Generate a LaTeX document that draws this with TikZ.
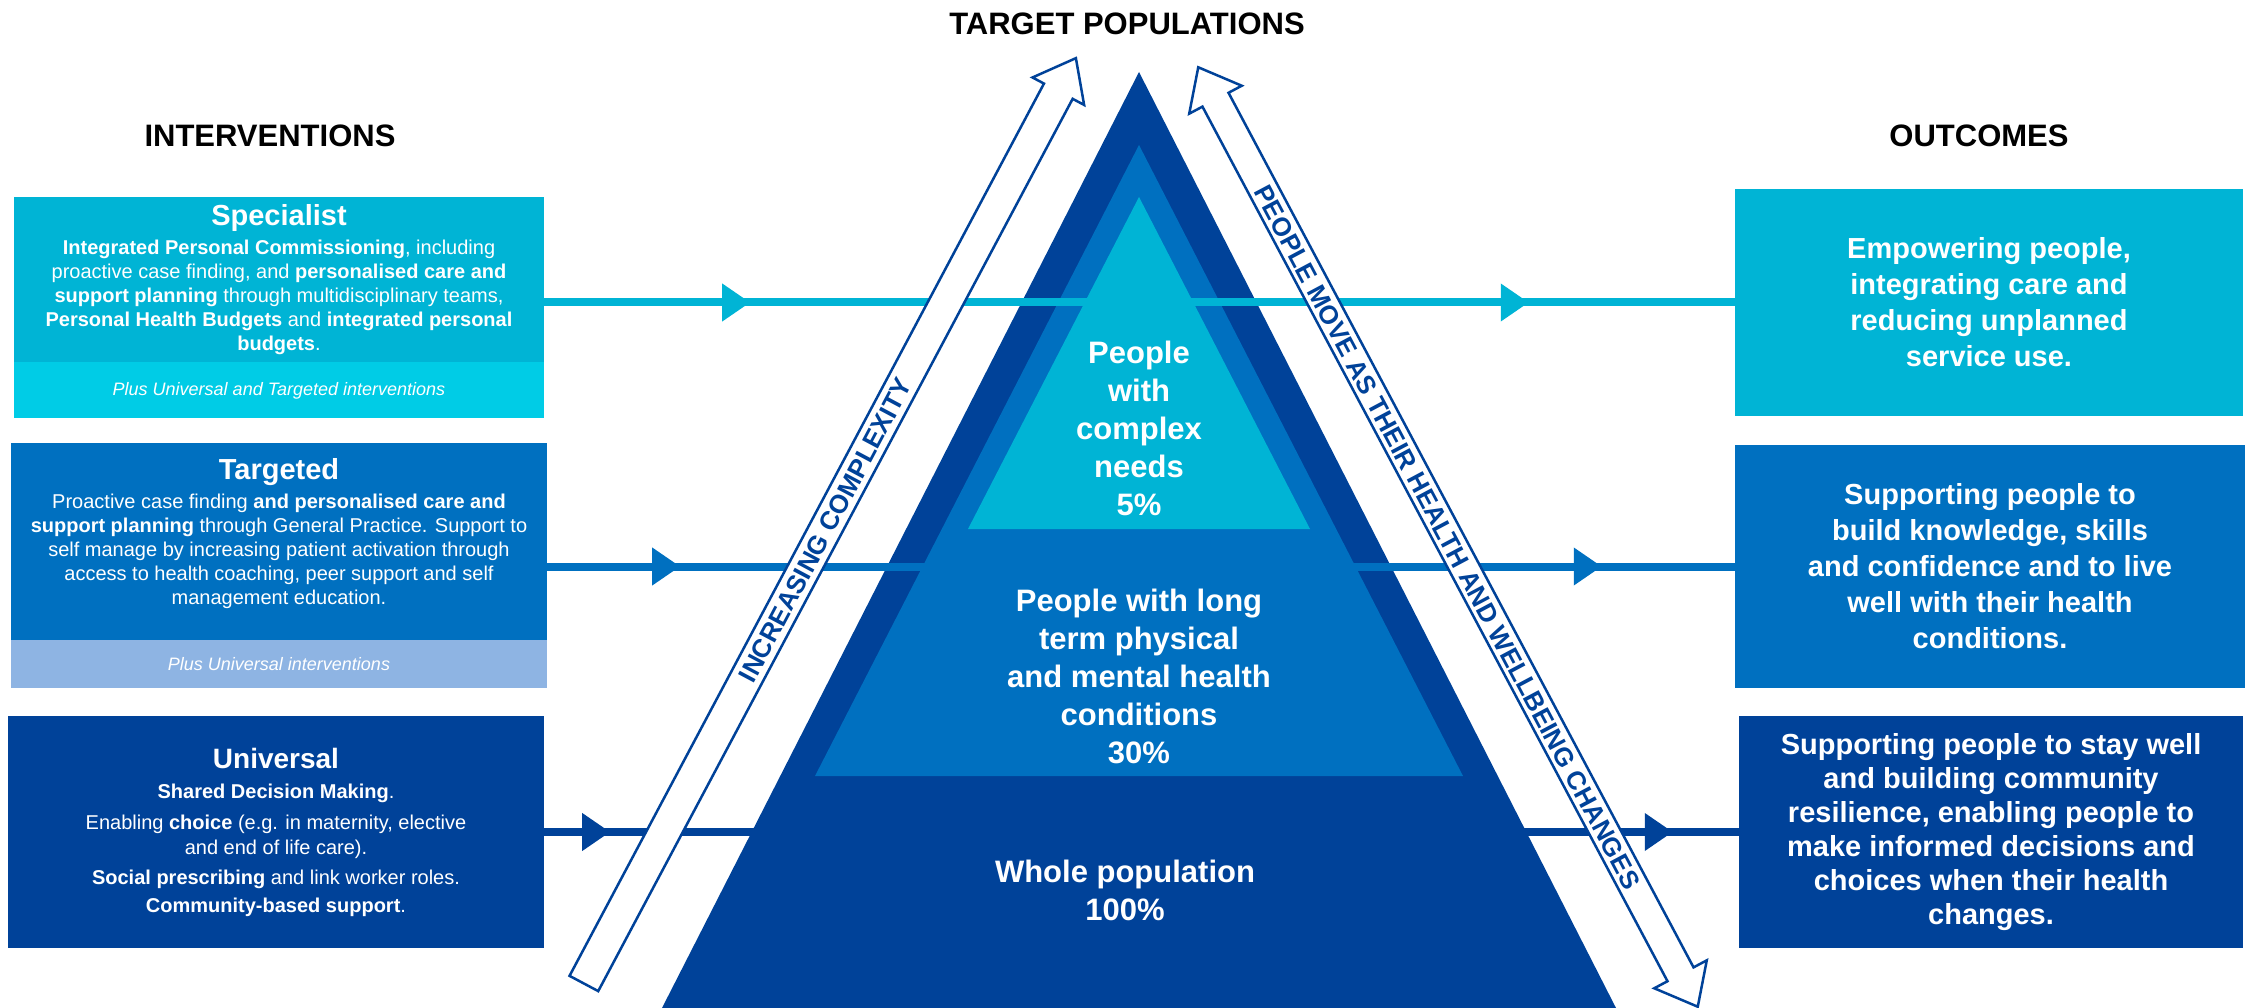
\documentclass[tikz,border=0pt]{standalone}
\usepackage{fontspec}
\setmainfont{Liberation Sans}
\usetikzlibrary{positioning,shapes.arrows,arrows.meta,decorations.markings}
\definecolor{darkblue}{HTML}{004299}
\definecolor{midblue}{HTML}{0070C0}
\definecolor{cyanblue}{HTML}{00B4D5}
\definecolor{cyanlight}{HTML}{00CCE6}
\definecolor{paleblue}{HTML}{8EB4E3}
\tikzset{
    levelbox/.style={rectangle, inner sep=0pt, text=white, align=center, font=\fontsize{20}{24}\selectfont},
    plusbox/.style={rectangle, inner sep=0pt, text=white, font=\fontsize{18}{21}\selectfont\itshape},
    outbox/.style={rectangle, inner sep=0pt, text=white, align=center, font=\fontsize{29}{36}\selectfont\bfseries},
    heading/.style={inner sep=0pt, font=\fontsize{31}{36}\selectfont\bfseries},
    tiertext/.style={inner sep=0pt, text=white, align=center, font=\fontsize{31}{38}\selectfont\bfseries},
    flow/.style={line width=8pt, postaction={decorate}, decoration={markings,
        mark=at position #1 with {\arrow{Triangle[length=28pt,width=36pt]}},
        mark=at position -#1 with {\arrow{Triangle[length=28pt,width=36pt]}}}},
    bigarrow/.style={draw=darkblue, line width=2.5pt, fill=white, text=darkblue,
        font=\fontsize{26}{30}\selectfont\bfseries, inner xsep=0pt, text height=19pt, text depth=0pt}
}

\begin{document}
\begin{tikzpicture}[x=1pt, y=-1pt]
    \useasboundingbox (0,0) rectangle (2252,1008);

    % headings
    \node[heading] (popHead) at (1127,24) {TARGET POPULATIONS};
    \node[heading] (intervHead) at (270,136) {INTERVENTIONS};
    \node[heading] (outHead) at (1979,136) {OUTCOMES};

    % interventions
    \node[levelbox, fill=cyanblue, minimum width=530pt, minimum height=165pt] (spec) at (279,279.5)
      {{\fontsize{29}{33}\selectfont\bfseries Specialist}\\[5pt]
      \textbf{Integrated Personal Commissioning}, including\\
      proactive case finding, and \textbf{personalised care and}\\
      \textbf{support planning} through multidisciplinary teams,\\
      \textbf{Personal Health Budgets} and \textbf{integrated personal}\\
      \textbf{budgets}.};
    \node[plusbox, fill=cyanlight, minimum width=530pt, minimum height=56pt, below=0pt of spec] (specplus)
      {Plus Universal and Targeted interventions};

    \node[levelbox, fill=midblue, minimum width=536pt, minimum height=197pt] (targ) at (279,541.5)
      {{\fontsize{29}{33}\selectfont\bfseries Targeted}\\[5pt]
      Proactive case finding \textbf{and personalised care and}\\
      \textbf{support planning} through General Practice. Support to\\
      self manage by increasing patient activation through\\
      access to health coaching, peer support and self\\
      management education.\\[-3pt]\mbox{}};
    \node[plusbox, fill=paleblue, minimum width=536pt, minimum height=48pt, below=0pt of targ] (targplus)
      {Plus Universal interventions};

    \node[levelbox, fill=darkblue, minimum width=536pt, minimum height=232pt] (univ) at (276,832)
      {{\fontsize{28}{32}\selectfont\bfseries Universal}\\[6pt]
      \textbf{Shared Decision Making}.\\[7pt]
      Enabling \textbf{choice} (e.g. in maternity, elective\\[1pt]
      and end of life care).\\[6pt]
      \textbf{Social prescribing} and link worker roles.\\[4pt]
      \textbf{Community-based support}.};

    % outcomes
    \node[outbox, fill=cyanblue, minimum width=508pt, minimum height=226pt] (out1) at (1989,302.5)
      {Empowering people,\\ integrating care and\\ reducing unplanned\\ service use.};
    \node[outbox, fill=midblue, minimum width=510pt, minimum height=243pt] (out2) at (1990,566.5)
      {Supporting people to\\ build knowledge, skills\\ and confidence and to live\\ well with their health\\ conditions.};
    \node[outbox, fill=darkblue, minimum width=504pt, minimum height=232pt,
          font=\fontsize{29}{34}\selectfont\bfseries] (out3) at (1991,832)
      {Supporting people to stay well\\ and building community\\ resilience, enabling people to\\ make informed decisions and\\ choices when their health\\ changes.};

    % pyramid layers with the connectors in between
    \draw[flow=66pt, darkblue] (univ.east) -- (out3.west);
    \fill[darkblue] (1139,72) -- (1616,1008) -- (662,1008) -- cycle;
    \draw[flow=133pt, midblue] (targ.east |- out2.west) -- (out2.west);
    \fill[midblue] (1139,145) -- (1463,776) -- (815,776) -- cycle;
    \draw[flow=206pt, cyanblue] (spec.east |- out1.west) -- (out1.west);
    \fill[cyanblue] (1139,197) -- (1310,529) -- (968,529) -- cycle;

    \node[tiertext] (complexText) at (1139,428) {People\\ with\\ complex\\ needs\\ 5\%};
    \node[tiertext] (longText) at (1139,676) {People with long\\ term physical\\ and mental health\\ conditions\\ 30\%};
    \node[tiertext] (wholeText) at (1125,890) {Whole population\\ 100\%};

    % white arrows
    \node[bigarrow, single arrow, inner ysep=5.5pt, minimum height=1048pt, rotate=62,
          single arrow head extend=13pt, single arrow tip angle=76] (complexArrow) at (825,530)
      {INCREASING COMPLEXITY};
    \node[bigarrow, double arrow, inner ysep=4pt, minimum height=1064pt, rotate=-62,
          double arrow head extend=15pt, double arrow tip angle=78] (moveArrow) at (1448,537)
      {PEOPLE MOVE AS THEIR HEALTH AND WELLBEING CHANGES};
\end{tikzpicture}
\end{document}
